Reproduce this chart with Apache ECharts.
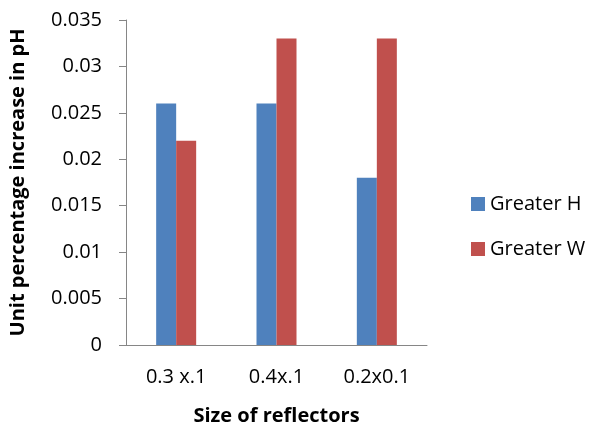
<!DOCTYPE html>
<html>
<head>
<meta charset="utf-8">
<script src="https://cdn.jsdelivr.net/npm/echarts@6/dist/echarts.min.js"></script>
<style>
  html, body { margin: 0; padding: 0; background: #fff; }
  #chart { width: 591px; height: 431px; }
</style>
</head>
<body>
<div id="chart"></div>
<script>
// Reflector sizes and the pH increase per unit for each orientation
const categories = ['0.3 x.1', '0.4x.1', '0.2x0.1'];
const greaterH = [0.026, 0.026, 0.018];
const greaterW = [0.022, 0.033, 0.033];
const yTicks = { min: 0, max: 0.035, interval: 0.005 };

const FONT = '"Open Sans", "Liberation Sans", sans-serif';

const chart = echarts.init(document.getElementById('chart'), null, { renderer: 'canvas' });
chart.setOption({
  animation: false,
  backgroundColor: '#ffffff',
  textStyle: { fontFamily: FONT },
  grid: { left: 126, top: 20, right: 164, bottom: 83, containLabel: false },
  legend: {
    orient: 'vertical',
    left: 466,
    top: 189,
    itemWidth: 14,
    itemHeight: 14,
    itemGap: 25,
    icon: 'rect',
    textStyle: { fontFamily: FONT, fontSize: 20, color: '#000' },
    data: ['Greater H', 'Greater W']
  },
  xAxis: {
    type: 'category',
    data: categories,
    name: 'Size of reflectors',
    nameLocation: 'middle',
    nameGap: 61,
    nameTextStyle: { fontFamily: FONT, fontSize: 20, fontWeight: 'bold', color: '#000' },
    axisLine: { lineStyle: { color: '#868686', width: 1 } },
    axisTick: { show: false },
    axisLabel: { fontFamily: FONT, fontSize: 20, color: '#000', margin: 22 }
  },
  yAxis: {
    type: 'value',
    min: yTicks.min,
    max: yTicks.max,
    interval: yTicks.interval,
    name: 'Unit percentage increase in pH',
    nameLocation: 'middle',
    nameGap: 98,
    nameTextStyle: { fontFamily: FONT, fontSize: 20, fontWeight: 'bold', color: '#000' },
    axisLine: { show: true, lineStyle: { color: '#868686', width: 1 } },
    axisTick: { show: true, length: 7, lineStyle: { color: '#868686' } },
    splitLine: { show: false },
    axisLabel: {
      fontFamily: FONT, fontSize: 20, color: '#000', margin: 24,
      formatter: v => String(parseFloat(v.toFixed(3)))
    }
  },
  series: [
    {
      name: 'Greater H', type: 'bar', data: greaterH,
      barWidth: 20, barGap: '0%',
      itemStyle: { color: '#4F81BD' }
    },
    {
      name: 'Greater W', type: 'bar', data: greaterW,
      barWidth: 20, barGap: '0%',
      itemStyle: { color: '#C0504D' }
    }
  ]
});
</script>
</body>
</html>
